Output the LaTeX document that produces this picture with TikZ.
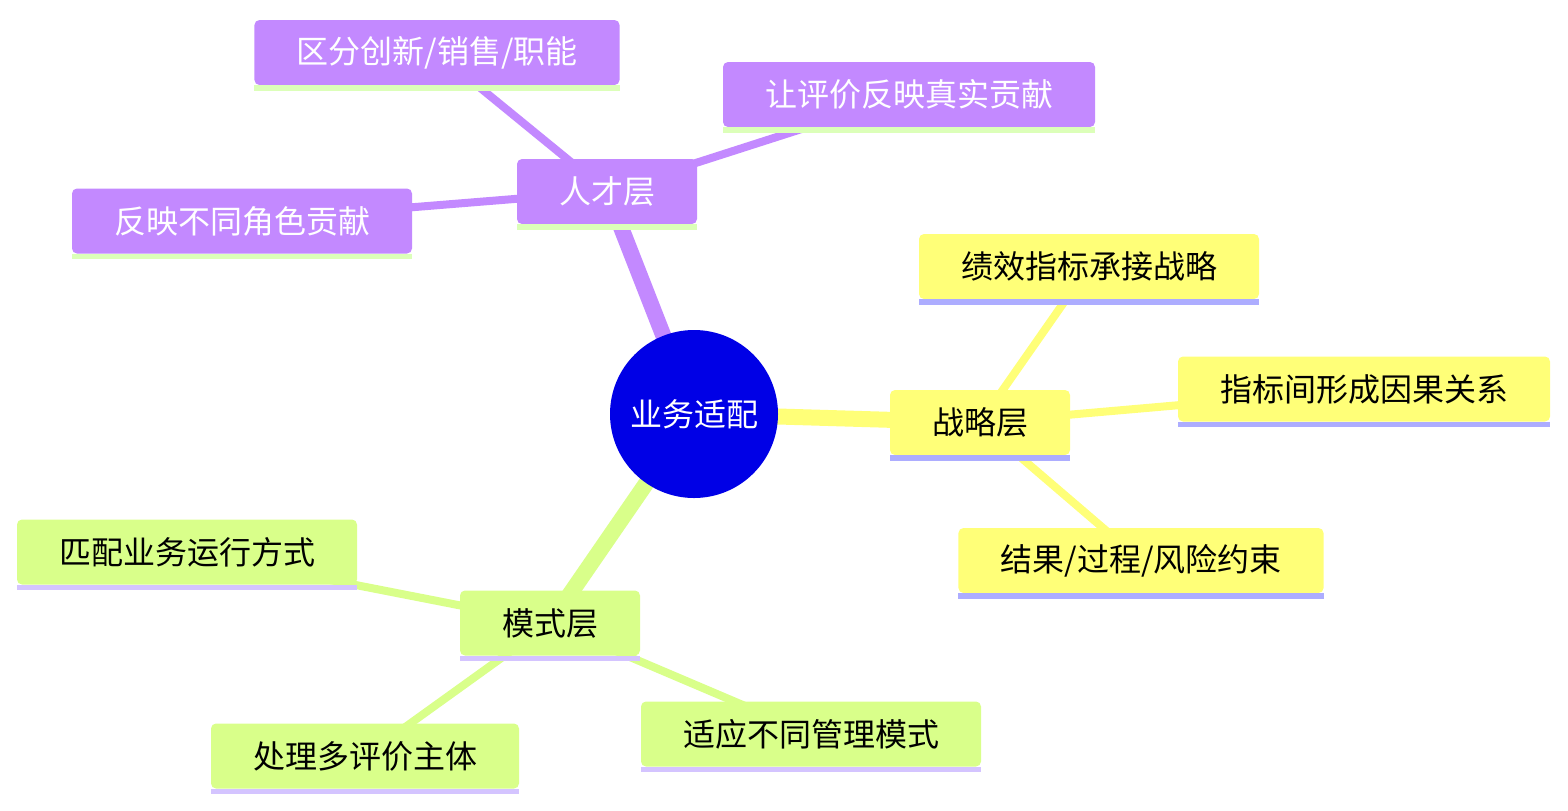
\documentclass[tikz,border=0pt]{standalone}
\usepackage{fontspec}
\setmainfont{Noto Sans CJK SC}
\usetikzlibrary{backgrounds}

\definecolor{rootBlue}{HTML}{0000E6}
\definecolor{talentFill}{HTML}{C389FF}
\definecolor{strategyFill}{HTML}{FFFF78}
\definecolor{modeFill}{HTML}{D9FF8A}
\definecolor{talentBar}{HTML}{DCFFB9}
\definecolor{strategyBar}{HTML}{ADADFF}
\definecolor{modeBar}{HTML}{D4C4FF}

\tikzset{
  box/.style={
    rounded corners=2.5pt,
    minimum height=32.5pt,
    inner xsep=21pt,
    font=\fontsize{16}{19}\selectfont
  },
  talent/.style={box, fill=talentFill, text=white},
  strategy/.style={box, fill=strategyFill, text=black},
  mode/.style={box, fill=modeFill, text=black},
  trunk/.style={line width=8pt},
  twig/.style={line width=4pt}
}

\begin{document}
\begin{tikzpicture}[x=0.5pt,y=-0.5pt]
    \useasboundingbox (0,0) rectangle (1568,810);

    % 中心
    \node[circle, fill=rootBlue, text=white, minimum size=84pt, inner sep=0pt,
          font=\fontsize{16}{19}\selectfont] (root) at (694,414) {业务适配};

    % 人才层
    \node[talent] (talent) at (607,191.5) {人才层};
    \node[talent] (talentA) at (437,52.5) {区分创新/销售/职能};
    \node[talent] (talentB) at (909,94.5) {让评价反映真实贡献};
    \node[talent] (talentC) at (242,221) {反映不同角色贡献};

    % 战略层
    \node[strategy] (strategy) at (980,422.5) {战略层};
    \node[strategy] (strategyA) at (1089,266.5) {绩效指标承接战略};
    \node[strategy] (strategyB) at (1364,389) {指标间形成因果关系};
    \node[strategy] (strategyC) at (1141,560.5) {结果/过程/风险约束};

    % 模式层
    \node[mode] (mode) at (550,623) {模式层};
    \node[mode] (modeA) at (187,552) {匹配业务运行方式};
    \node[mode] (modeB) at (365,756) {处理多评价主体};
    \node[mode] (modeC) at (811,734) {适应不同管理模式};

    % 节点下方的色条
    \foreach \n in {talent,talentA,talentB,talentC}
      \fill[talentBar] (\n.south west) rectangle ([yshift=-2.75pt]\n.south east);
    \foreach \n in {strategy,strategyA,strategyB,strategyC}
      \fill[strategyBar] (\n.south west) rectangle ([yshift=-2.75pt]\n.south east);
    \foreach \n in {mode,modeA,modeB,modeC}
      \fill[modeBar] (\n.south west) rectangle ([yshift=-2.75pt]\n.south east);

    % 连线放在背景层
    \begin{scope}[on background layer]
      \draw[trunk, talentFill] (root.center) -- (talent.center);
      \draw[trunk, strategyFill] (root.center) -- (strategy.center);
      \draw[trunk, modeFill] (root.center) -- (mode.center);
      \foreach \c in {talentA,talentB,talentC}
        \draw[twig, talentFill] (talent.center) -- (\c.center);
      \foreach \c in {strategyA,strategyB,strategyC}
        \draw[twig, strategyFill] (strategy.center) -- (\c.center);
      \foreach \c in {modeA,modeB,modeC}
        \draw[twig, modeFill] (mode.center) -- (\c.center);
    \end{scope}
\end{tikzpicture}
\end{document}
